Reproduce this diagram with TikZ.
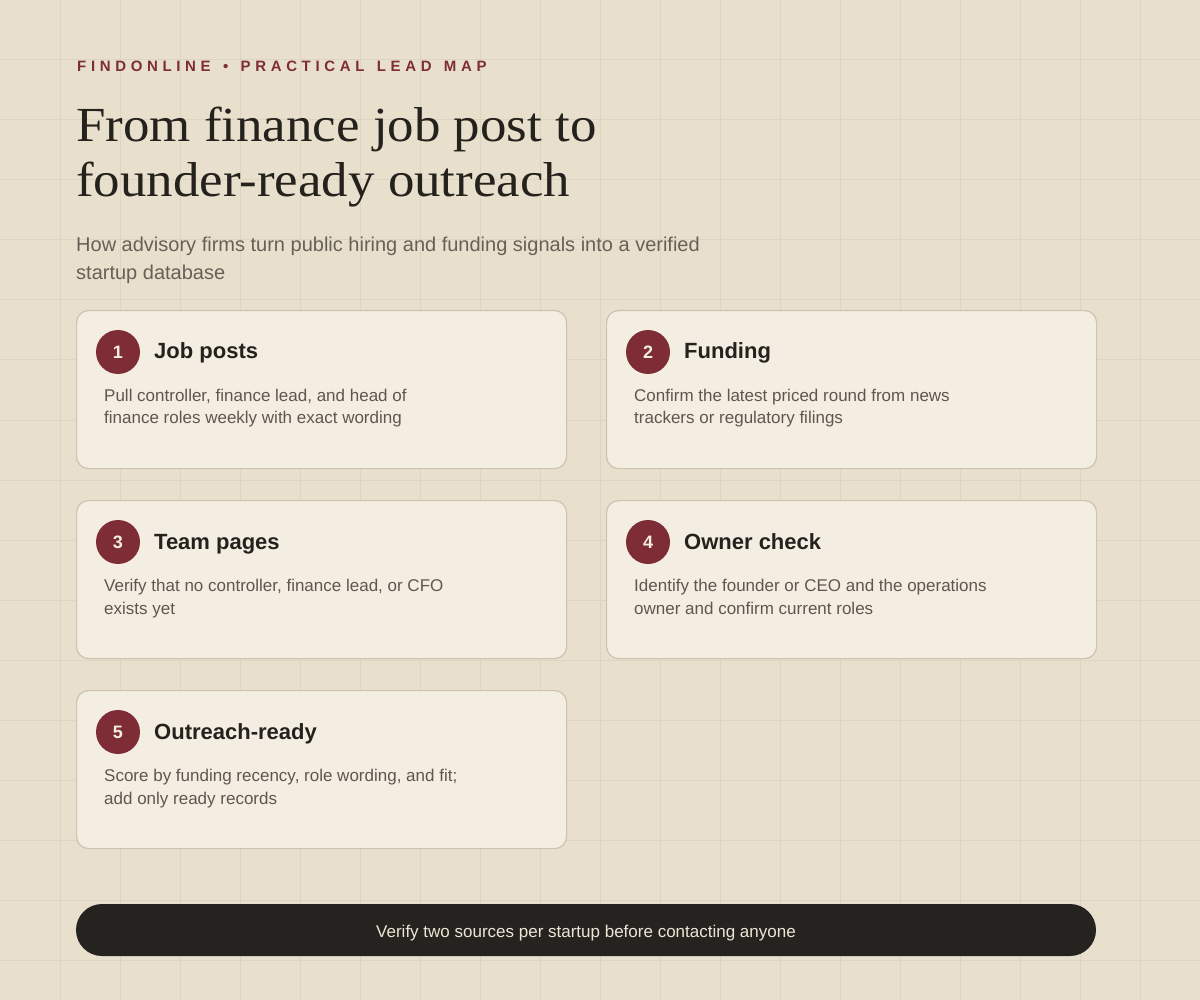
\documentclass[tikz,border=0pt]{standalone}
\usepackage{fontspec}
\setmainfont{Liberation Sans}
\newfontfamily\serifT[FakeStretch=1.08]{Liberation Serif}
\newfontfamily\headF[LetterSpace=31,WordSpace={1.4}]{Liberation Sans Bold}
\definecolor{bg}{HTML}{E8E0CC}
\definecolor{gridc}{HTML}{DDD5C1}
\definecolor{cardfill}{HTML}{F4EEE2}
\definecolor{cardline}{HTML}{CDC3AF}
\definecolor{wine}{HTML}{7E2C36}
\definecolor{ink}{HTML}{25221E}
\definecolor{bodyc}{HTML}{5E574E}
\definecolor{subc}{HTML}{686057}
\definecolor{barc}{HTML}{252320}
\definecolor{bartext}{HTML}{EEE6D4}
\tikzset{
  card/.style={draw=cardline, fill=cardfill, rounded corners=12pt, line width=1.2pt,
    minimum width=490pt, minimum height=158pt, inner sep=0pt, anchor=north west},
  numdot/.style={circle, fill=wine, minimum size=44pt, inner sep=0pt, text=cardfill,
    font=\fontsize{18}{18}\selectfont\bfseries},
  cardtitle/.style={anchor=base west, inner sep=0pt, text=ink, font=\fontsize{22}{26}\selectfont\bfseries},
  cardbody/.style={anchor=base west, inner sep=0pt, text=bodyc, align=left, font=\fontsize{17}{23}\selectfont},
}
\newcommand\stepcard[6]{%
  \node[card] (#1) at (#2,#3) {};
  \node[numdot] (#1n) at ([shift={(42,42)}]#1.north west) {#4};
  \node[cardtitle] (#1t) at ([shift={(78,49)}]#1.north west) {#5};
  \node[cardbody] (#1b) at ([shift={(28,114)}]#1.north west) {#6};
}
\begin{document}
\begin{tikzpicture}[x=1pt,y=-1pt]
\fill[bg] (0,0) rectangle (1200,1000);
\useasboundingbox (0,0) rectangle (1200,1000);
\foreach \i in {60,120,...,1140} \draw[gridc, line width=1pt] (\i,0) -- (\i,1000);
\foreach \j in {60,120,...,960} \draw[gridc, line width=1pt] (0,\j) -- (1200,\j);

\node[anchor=base west, inner sep=0pt, text=wine, font=\headF\fontsize{15}{18}\selectfont] (kicker) at (77,72) {FINDONLINE • PRACTICAL LEAD MAP};
\node[anchor=base west, inner sep=0pt, text=ink, font=\serifT\fontsize{49}{55}\selectfont] (title1) at (76,142) {From finance job post to};
\node[anchor=base west, inner sep=0pt, text=ink, font=\serifT\fontsize{49}{55}\selectfont] (title2) at (76,197) {founder-ready outreach};
\node[anchor=base west, inner sep=0pt, text=subc, font=\fontsize{20}{28}\selectfont] (sub1) at (76,252) {How advisory firms turn public hiring and funding signals into a verified};
\node[anchor=base west, inner sep=0pt, text=subc, font=\fontsize{20}{28}\selectfont] (sub2) at (76,280) {startup database};

\stepcard{c1}{76}{310}{1}{Job posts}{Pull controller, finance lead, and head of\\finance roles weekly with exact wording}
\stepcard{c2}{606}{310}{2}{Funding}{Confirm the latest priced round from news\\trackers or regulatory filings}
\stepcard{c3}{76}{500}{3}{Team pages}{Verify that no controller, finance lead, or CFO\\exists yet}
\stepcard{c4}{606}{500}{4}{Owner check}{Identify the founder or CEO and the operations\\owner and confirm current roles}
\stepcard{c5}{76}{690}{5}{Outreach-ready}{Score by funding recency, role wording, and fit;\\add only ready records}

\node[fill=barc, rounded corners=26pt, minimum width=1020pt, minimum height=52pt, inner sep=0pt] (bar) at (586,930) {};
\node[anchor=base, inner sep=0pt, text=bartext, font=\fontsize{17}{20}\selectfont] (bartxt) at ([shift={(0,7)}]bar.center) {Verify two sources per startup before contacting anyone};
\end{tikzpicture}
\end{document}
